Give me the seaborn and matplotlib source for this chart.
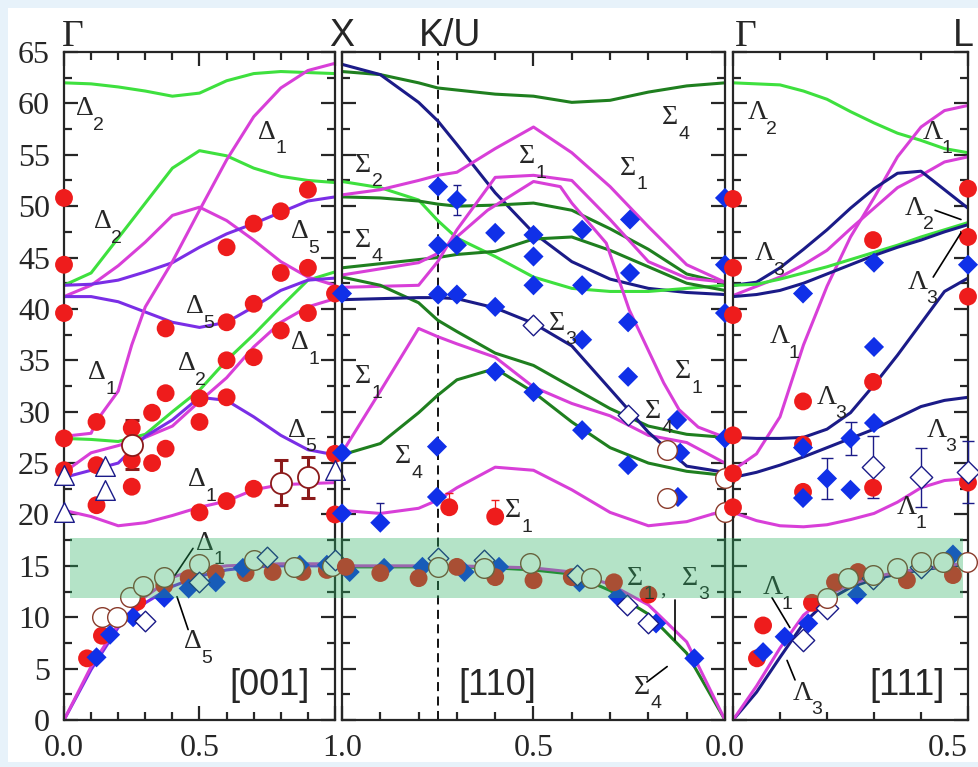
import numpy as np
import pandas as pd
import seaborn as sns
import matplotlib.pyplot as plt
from matplotlib.patches import Rectangle
from matplotlib.ticker import MultipleLocator

# ---------------- data: [001] Gamma-X ----------------
x001 = [0, .1, .2, .3, .4, .5, .6, .7, .8, .9, 1.0]
d2_top = [62.0, 61.9, 61.6, 61.2, 60.7, 61.0, 62.2, 62.9, 63.1, 63.0, 62.9]
d2_mid = [42.3, 43.5, 46.9, 50.3, 53.7, 55.4, 54.9, 53.7, 52.9, 52.5, 52.3]
d2_low = [27.4, 27.3, 27.1, 27.8, 30.0, 32.1, 35.0, 37.5, 40.2, 42.8, 43.6]
d1_b = [41.2, 42.3, 44.2, 46.5, 49.1, 49.9, 48.6, 46.7, 44.6, 43.1, 42.3]
d1_c = [24.1, 26.0, 26.7, 27.5, 28.6, 31.0, 33.3, 36.3, 38.7, 40.2, 41.0]
d1_d = [20.4, 19.8, 18.9, 19.2, 19.9, 20.7, 21.3, 22.4, 22.9, 23.0, 23.1]
d5_a = [42.3, 42.4, 42.8, 43.6, 44.5, 46.0, 47.3, 48.3, 49.4, 50.5, 50.9]
d5_b = [41.2, 41.2, 40.7, 39.7, 38.7, 38.2, 38.7, 40.2, 41.8, 42.8, 43.0]
d5_c = [23.6, 24.3, 25.0, 27.6, 29.2, 31.4, 31.1, 29.5, 27.7, 26.3, 25.8]
la_001 = [0, 5.2, 9.3, 12.0, 13.9, 14.7, 15.0, 15.1, 15.2, 15.2, 15.2]
ta_001 = [0, 4.9, 9.0, 11.4, 13.0, 14.0, 14.6, 14.9, 15.0, 15.0, 15.0]
d1_a_x = [0, .1, .12, .2, .25, .3, .4, .5, .6, .7, .8, .9, 1.0]
d1_a = [27.6, 27.9, 29.1, 32.0, 36.5, 40.2, 44.6, 49.6, 54.5, 58.7, 61.5, 63.2, 63.9]

red1_x = [0, 0, 0, 0, 0, .12, .12, .12, .25, .25, .25, .325, .325, .375, .375, .375,
          .5, .5, .5, .6, .6, .6, .6, .6, .7, .7, .7, .7, .8, .8, .8, .9, .9, .9, 1, 1, 1,
          .085, .14, .27, .37, .46, .56, .67, .77, .88, .97]
red1_y = [50.8, 44.3, 39.6, 27.4, 24.3, 29.0, 24.8, 20.9, 28.4, 25.3, 22.7, 29.9, 25.0, 31.8, 26.4, 38.1,
          31.3, 29.0, 20.2, 31.4, 35.0, 38.7, 46.0, 21.3, 40.5, 35.3, 48.3, 22.5, 49.5, 43.5, 37.9,
          51.6, 44.0, 39.6, 41.5, 25.9, 20.0,
          6.0, 8.2, 11.5, 13.1, 13.8, 14.3, 14.3, 14.4, 14.4, 14.6]
blue1_x = [.12, .17, .255, .37, .46, .56, .66, .87, .97]
blue1_y = [6.1, 8.3, 10.0, 11.9, 12.8, 13.4, 14.8, 15.1, 15.1]
ocirc1_x = [.14, .195, .245, .29, .37, .5, .7, .85, .99]
ocirc1_y = [10.0, 10.0, 12.0, 13.0, 13.9, 15.2, 15.6, 14.9, 15.0]
odia1_x = [.3, .5, .75, 1.0]
odia1_y = [9.6, 13.4, 15.9, 15.6]
otri1_x = [0, 0, .15, .15, 1.0]
otri1_y = [23.8, 20.2, 24.7, 22.4, 24.3]
ebc1_x = [.25, .8, .9]
ebc1_y = [26.8, 23.1, 23.6]
ebc1_e = [2.4, 2.2, 2.0]

# ---------------- data: [110] X-K-Gamma ----------------
x110 = [1.0, .9, .8, .75, .7, .6, .5, .4, .3, .2, .1, 0.0]
s_navy_top = [63.8, 62.8, 60.1, 58.3, 56.0, 51.3, 47.4, 44.6, 42.9, 42.0, 41.6, 41.4]
s_dg_top = [63.1, 62.8, 62.0, 61.5, 61.3, 60.9, 60.7, 60.1, 60.3, 61.1, 61.7, 62.0]
s_lg = [52.4, 51.8, 50.6, 48.6, 46.9, 45.1, 43.1, 42.0, 41.7, 41.7, 42.0, 42.3]
s_dg2 = [50.9, 50.8, 50.5, 50.2, 50.0, 50.1, 50.3, 49.6, 47.8, 45.8, 43.4, 42.5]
s_dg3 = [44.0, 44.4, 44.8, 45.0, 45.3, 45.6, 46.8, 47.0, 45.7, 44.1, 42.5, 41.8]
s_ma = [51.1, 51.6, 52.5, 53.0, 53.3, 55.6, 57.7, 55.2, 51.9, 48.0, 44.3, 42.6]
s_mb = [42.1, 42.2, 42.3, 44.6, 47.7, 52.8, 53.0, 52.5, 48.7, 44.6, 43.0, 42.6]
s_dg4 = [43.1, 42.3, 40.6, 38.9, 37.8, 35.7, 34.5, 32.4, 30.3, 28.6, 27.8, 27.5]
s_dg5 = [25.8, 26.9, 29.9, 31.6, 33.1, 34.2, 31.9, 29.0, 26.5, 25.0, 24.2, 23.8]
s_me = [26.0, 32.0, 38.1, 37.3, 36.6, 35.3, 32.4, 30.8, 29.6, 27.7, 27.0, 25.0]
s_mf = [20.4, 20.1, 20.6, 21.4, 22.6, 24.6, 24.3, 22.4, 20.2, 18.9, 19.3, 20.4]
s_n2 = [40.9, 41.0, 41.1, 41.1, 41.0, 40.1, 38.6, 36.4, 32.2, 28.0, 24.7, 24.1]
s_ac1 = [15.0, 15.0, 15.0, 15.0, 15.0, 14.9, 14.8, 14.4, 13.2, 11.2, 7.6, 0.0]
s_ac2 = [14.9, 14.9, 14.9, 14.9, 14.9, 14.8, 14.6, 14.2, 12.6, 10.3, 6.5, 0.0]
s_mc_x = [1.0, .8, .75, .62, .5, .43, .4, .31, .25, .16, .12, .07, 0.0]
s_mc = [43.3, 44.5, 45.4, 49.6, 52.4, 51.9, 50.3, 46.4, 39.9, 32.8, 30.2, 28.5, 27.5]

blue2_x = [.749, .70, .749, .70, .60, .50, .50, .50, .749, .70, .60, .373, .373, .248, .248,
           0, 0, .253, .373, .253, .60, .50, .373, .125, .253, .117, .123, .752, .752, 0, 0,
           1.0, 1.0, .90, 1.0,
           .98, .89, .79, .68, .59, .38, .28, .18, .08]
blue2_y = [51.9, 50.6, 46.2, 46.2, 47.4, 47.2, 45.1, 42.3, 41.4, 41.4, 40.2, 47.7, 42.3, 48.7, 43.5,
           50.8, 44.3, 38.7, 37.0, 33.4, 33.9, 31.9, 28.2, 29.2, 24.8, 26.0, 21.7, 26.6, 21.7, 39.6, 27.4,
           41.5, 26.0, 19.2, 20.1,
           14.4, 14.8, 14.9, 14.4, 14.9, 13.4, 12.0, 9.4, 6.0]
red2_x = [.72, .60, .99, .90, .80, .70, .60, .50, .40, .29, .20]
red2_y = [20.7, 19.8, 14.9, 14.3, 13.8, 14.9, 13.9, 13.6, 13.9, 13.4, 12.2]
red2_e = [1.4, 1.6]
odia2_x = [.5, .253, .75, .63, .386, .256, .20]
odia2_y = [38.4, 29.7, 15.8, 15.6, 14.1, 11.2, 9.4]
ocirc2_x = [.151, .151, 0, 0, .75, .63, .51, .35]
ocirc2_y = [26.3, 21.6, 23.5, 20.2, 14.9, 14.8, 15.3, 13.8]

# ---------------- data: [111] Gamma-L ----------------
x111 = [0, .05, .1, .15, .2, .25, .3, .35, .4, .45, .5]
l2_top = [62.0, 61.9, 61.8, 61.2, 60.4, 59.2, 58.1, 57.1, 56.4, 55.6, 55.2]
l1_top = [24.3, 25.9, 29.5, 36.5, 42.2, 47.0, 50.8, 54.8, 57.7, 59.3, 59.8]
l1_b = [41.3, 42.2, 43.1, 44.3, 45.7, 47.8, 49.8, 51.8, 53.0, 54.3, 54.8]
l3_a = [42.3, 42.6, 44.0, 45.8, 47.7, 49.8, 51.7, 53.2, 53.4, 51.6, 49.8]
l2_b = [42.3, 42.4, 42.9, 43.5, 44.1, 44.8, 45.5, 46.2, 47.0, 47.7, 48.4]
l3_b = [41.2, 41.4, 41.8, 42.5, 43.4, 44.3, 45.2, 46.0, 46.7, 47.5, 48.2]
l3_c = [27.5, 27.4, 27.4, 27.5, 28.3, 29.9, 32.6, 35.5, 38.6, 41.7, 43.0]
l3_d = [23.6, 24.1, 24.8, 25.6, 26.5, 27.4, 28.3, 29.4, 30.5, 31.1, 31.4]
l1_c = [20.2, 19.4, 18.9, 18.8, 19.0, 19.5, 20.1, 21.2, 22.6, 23.3, 23.5]
la_111 = [0, 3.3, 7.0, 10.2, 12.1, 13.2, 13.9, 14.4, 14.7, 15.0, 15.3]
ta_111 = [0, 2.7, 6.1, 9.4, 11.6, 12.9, 13.7, 14.2, 14.6, 14.9, 15.2]

red3_x = [.5, .5, .298, .5, .298, .149, .149, .298, .149, .5, 0, 0, 0, 0, 0, 0,
          .064, .051, .168, .217, .266, .37, .468]
red3_y = [51.7, 47.0, 46.7, 41.2, 32.9, 31.0, 26.8, 22.6, 22.2, 23.1, 50.7, 44.0, 39.4, 27.7, 24.0, 20.7,
          9.2, 6.0, 11.4, 13.4, 14.4, 13.6, 14.1]
blue3_x = [.149, .30, .5, .30, .30, .25, .20, .25, .149, .149, .064, .11, .16, .264, .468]
blue3_y = [41.5, 44.5, 44.3, 36.3, 28.9, 27.4, 23.5, 22.4, 21.6, 26.5, 6.6, 8.1, 9.4, 12.2, 16.1]
blue3_ex = [.25, .20]
blue3_ey = [27.4, 23.5]
blue3_e = [1.6, 2.0]
odia3_x = [.298, .40, .50, .149, .20, .298, .40]
odia3_y = [24.6, 23.6, 24.1, 7.8, 10.9, 13.8, 14.9]
odia3_e = [3.0, 2.9, 3.0]
ocirc3_x = [.20, .245, .298, .349, .40, .447, .498]
ocirc3_y = [11.9, 13.8, 14.1, 14.8, 15.4, 15.4, 15.4]

# branch labels (symbol, subscript, x, y)
labels1 = [('Δ', '2', .077, 59.5), ('Δ', '1', .749, 57.2), ('Δ', '2', .144, 48.5), ('Δ', '5', .871, 47.5),
           ('Δ', '5', .483, 40.2), ('Δ', '1', .871, 36.7), ('Δ', '1', .122, 33.8), ('Δ', '2', .454, 34.7),
           ('Δ', '5', .86, 28.2), ('Δ', '1', .49, 23.4), ('Δ', '1', .52, 17.2), ('Δ', '5', .476, 7.6)]
labels2 = [('Σ', '4', .144, 58.6), ('Σ', '1', .517, 54.8), ('Σ', '1', .253, 53.7), ('Σ', '2', .945, 54.0),
           ('Σ', '4', .945, 46.7), ('Σ', '3', .439, 38.6), ('Σ', '1', .945, 33.4), ('Σ', '1', .11, 33.9),
           ('Σ', '4', .841, 25.6), ('Σ', '4', .188, 30.0), ('Σ', '1', .554, 20.4), ('Σ', '1', .235, 13.8),
           ('Σ', '3', .092, 13.8), ('Σ', '4', .217, 3.2)]
labels3 = [('Λ', '2', .053, 59.1), ('Λ', '1', .426, 57.2), ('Λ', '2', .387, 49.8), ('Λ', '3', .068, 45.4),
           ('Λ', '3', .394, 42.6), ('Λ', '1', .10, 37.3), ('Λ', '3', .20, 31.4), ('Λ', '3', .434, 28.2),
           ('Λ', '1', .37, 20.7), ('Λ', '1', .085, 12.9), ('Λ', '3', .149, 2.6)]
leaders1 = [((.476, .41), (16.7, 14.1)), ((.417, .458), (12.0, 8.8))]
leaders2 = [((.131, .131), (11.7, 7.8)), ((.204, .151), (3.7, 5.2))]
leaders3 = [((.43, .485), (49.6, 48.7)), ((.426, .485), (43.1, 47.4)),
            ((.083, .121), (11.9, 9.0)), ((.115, .132), (5.8, 3.9))]

# ---------------- styling ----------------
MAG, LGR, DGR, NAVY, PURP = '#d83fd8', '#3ee03e', '#1f7f1f', '#1b1b88', '#7a2ee6'
RED, BLUE, BROWN, DKRED = '#ee1c1c', '#1030e8', '#8a3b2b', '#8b1a1a'

sns.set_style('ticks')
plt.rcParams['font.family'] = ['Liberation Serif', 'DejaVu Serif']

W, H = 979, 767
fig = plt.figure(figsize=(W / 100, H / 100), dpi=100, facecolor='#e7f2fa')
fig.add_artist(Rectangle((8 / W, 5 / H), (W - 8) / W, (762 - 8) / H, transform=fig.transFigure,
                         facecolor='white', edgecolor='none', zorder=-10))


def make_ax(x0, x1):
    return fig.add_axes([x0 / W, (H - 720) / H, (x1 - x0) / W, (720 - 52) / H])


ax1, ax2, ax3 = make_ax(64, 335), make_ax(342, 725), make_ax(733, 968)


def curve(ax, x, y, c):
    sns.lineplot(x=x, y=y, ax=ax, color=c, lw=2.2, sort=False, estimator=None, legend=False, zorder=2)


def pts(ax, x, y, marker, s, color, ec='none', lw=0):
    sns.scatterplot(x=x, y=y, ax=ax, marker=marker, s=s, color=color, edgecolor=ec, linewidth=lw,
                    legend=False, clip_on=False, zorder=4)


def lab(ax, sym, sub, x, y):
    ax.text(x, y, sym, fontsize=20, family='Liberation Serif', ha='center', va='center', zorder=6)
    ax.annotate(sub, (x, y), xytext=(10, -12), textcoords='offset points', fontsize=14,
                family='Liberation Sans', ha='center', va='center', zorder=6)


# panel 1
for yv, c in [(d2_top, LGR), (d2_mid, LGR), (d2_low, LGR), (d1_b, MAG), (d1_c, MAG), (d1_d, MAG),
              (d5_a, PURP), (d5_b, PURP), (d5_c, PURP), (ta_001, PURP), (la_001, MAG)]:
    curve(ax1, x001, yv, c)
curve(ax1, d1_a_x, d1_a, MAG)
ax1.errorbar(ebc1_x, ebc1_y, yerr=ebc1_e, fmt='none', ecolor=DKRED, elinewidth=2.2, capsize=5,
             capthick=2.2, zorder=3, clip_on=False)
pts(ax1, red1_x, red1_y, 'o', 165, RED)
pts(ax1, blue1_x, blue1_y, 'D', 105, BLUE)
pts(ax1, ocirc1_x, ocirc1_y, 'o', 200, 'white', BROWN, 1)
pts(ax1, odia1_x, odia1_y, 'D', 110, 'white', NAVY, 1)
pts(ax1, otri1_x, otri1_y, '^', 200, 'white', NAVY, 1)
pts(ax1, ebc1_x, ebc1_y, 'o', 230, 'white', DKRED, 1.3)

# panel 2
for yv, c in [(s_dg_top, DGR), (s_navy_top, NAVY), (s_lg, LGR), (s_dg2, DGR), (s_dg3, DGR),
              (s_ma, MAG), (s_mb, MAG), (s_dg4, DGR), (s_dg5, DGR), (s_me, MAG), (s_mf, MAG),
              (s_n2, NAVY), (s_ac2, DGR), (s_ac1, MAG)]:
    curve(ax2, x110, yv, c)
curve(ax2, s_mc_x, s_mc, MAG)
ax2.axvline(0.75, color='black', ls=(0, (5, 3)), lw=1.3, zorder=1)
ax2.errorbar(red2_x[:2], red2_y[:2], yerr=[[0, 0], red2_e], fmt='none', ecolor=RED, elinewidth=0.9,
             capsize=3, zorder=3)
ax2.errorbar([.90, .70], [19.2, 50.6], yerr=[[0, 1.5], [1.9, 1.5]], fmt='none', ecolor=NAVY,
             elinewidth=0.9, capsize=3, zorder=3)
pts(ax2, blue2_x, blue2_y, 'D', 105, BLUE)
pts(ax2, red2_x, red2_y, 'o', 165, RED)
pts(ax2, odia2_x, odia2_y, 'D', 110, 'white', NAVY, 1)
pts(ax2, ocirc2_x, ocirc2_y, 'o', 200, 'white', BROWN, 1)

# panel 3
for yv, c in [(l2_top, LGR), (l1_top, MAG), (l1_b, MAG), (l3_a, NAVY), (l2_b, LGR), (l3_b, NAVY),
              (l3_c, NAVY), (l3_d, NAVY), (l1_c, MAG), (ta_111, NAVY), (la_111, MAG)]:
    curve(ax3, x111, yv, c)
ax3.errorbar(blue3_ex, blue3_ey, yerr=blue3_e, fmt='none', ecolor=NAVY, elinewidth=1, capsize=4, zorder=3)
ax3.errorbar(odia3_x[:3], odia3_y[:3], yerr=odia3_e, fmt='none', ecolor=NAVY, elinewidth=1, capsize=4,
             zorder=3, clip_on=False)
pts(ax3, red3_x, red3_y, 'o', 165, RED)
pts(ax3, blue3_x, blue3_y, 'D', 105, BLUE)
pts(ax3, odia3_x, odia3_y, 'D', 130, 'white', NAVY, 1)
pts(ax3, ocirc3_x, ocirc3_y, 'o', 200, 'white', BROWN, 1)

# labels and leader lines
for ax, labs, leads in [(ax1, labels1, leaders1), (ax2, labels2, leaders2), (ax3, labels3, leaders3)]:
    for sym, sub, x, y in labs:
        lab(ax, sym, sub, x, y)
    for xs, ys in leads:
        ax.plot(xs, ys, color='black', lw=1.2, zorder=6)
ax2.text(.163, 12.6, ',', fontsize=16, ha='center', va='center', zorder=6)
for ax, t, x in [(ax1, '[001]', .76), (ax2, '[110]', .595), (ax3, '[111]', .37)]:
    ax.text(x, 3.4, t, fontsize=26, family='Liberation Sans', ha='center', va='center')

# axes formatting
for ax in (ax1, ax2, ax3):
    ax.set_facecolor('none')
    ax.set_ylim(0, 65)
    ax.yaxis.set_major_locator(MultipleLocator(5))
    ax.yaxis.set_minor_locator(MultipleLocator(2.5))
    ax.xaxis.set_minor_locator(MultipleLocator(0.1))
    ax.tick_params(which='both', direction='in', top=True, right=True, width=1.6, labelsize=23, pad=10)
    ax.tick_params(which='major', length=10)
    ax.tick_params(which='minor', length=5.5)
    for sp in ax.spines.values():
        sp.set_linewidth(1.6)
    ax.set_xlabel('')
    ax.set_ylabel('')

ax1.set_xlim(0, 1)
ax1.set_xticks([0, .5, 1])
ax1.set_xticklabels(['0.0', '0.5', ''])
ax2.set_xlim(1, 0)
ax2.set_xticks([1, .5, 0])
ax2.set_xticklabels(['1.0', '0.5', '0.0'])
ax3.set_xlim(0, .5)
ax3.set_xticks([0, .5])
ax3.set_xticklabels(['', '0.5'])
ax3.get_xticklabels()[1].set_ha('right')
ax2.tick_params(labelleft=False)
ax3.tick_params(labelleft=False)

# high-symmetry point labels
for t, xp, fam in [('Γ', 73, 'Liberation Serif'), ('X', 342, 'Liberation Sans'), ('K/U', 450, 'Liberation Sans'),
                   ('Γ', 746, 'Liberation Serif'), ('L', 963, 'Liberation Sans')]:
    fig.text(xp / W, 1 - 46 / H, t, fontsize=27, family=fam, ha='center', va='baseline')

# translucent band
fig.add_artist(Rectangle((70 / W, (H - 598) / H), (963 - 70) / W, (598 - 538) / H, transform=fig.transFigure,
                         facecolor=(0.16, 0.69, 0.38), alpha=0.35, edgecolor='none', zorder=10))

fig.savefig('out.png', dpi=100, facecolor=fig.get_facecolor())
